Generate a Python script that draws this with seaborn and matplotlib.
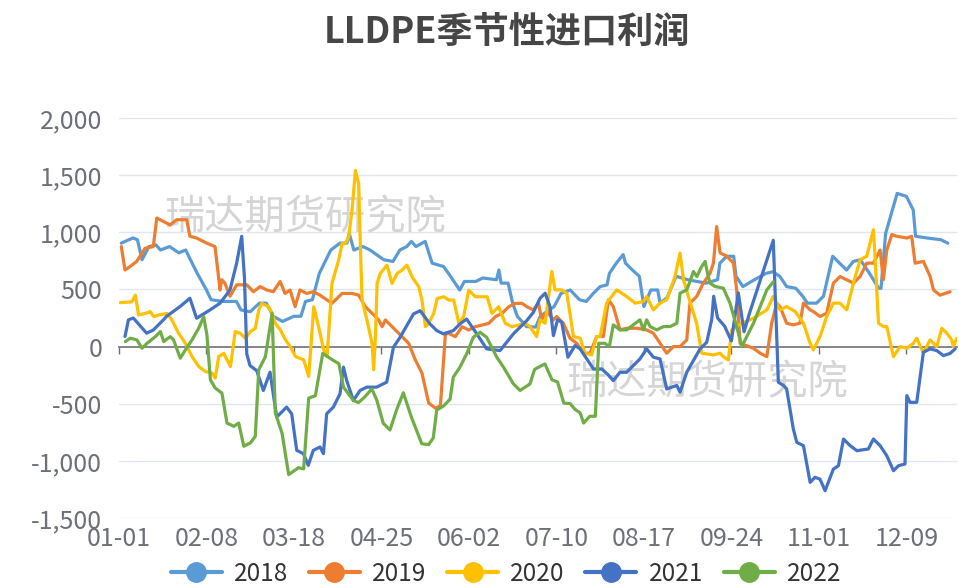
import matplotlib
matplotlib.use("Agg")
import seaborn as sns
import pandas as pd
from matplotlib import pyplot as plt
from matplotlib.lines import Line2D
from matplotlib.ticker import FuncFormatter

# (day of year, import profit) pairs
s2018 = [(1, 905), (6, 950), (8, 935), (10, 760), (13, 875), (16, 890), (18, 845), (22, 875),
         (26, 820), (29, 845), (31, 760), (34, 640), (38, 495), (40, 410), (45, 395), (51, 395),
         (53, 320), (57, 305), (61, 380), (64, 380), (67, 265), (71, 220), (76, 265), (79, 265),
         (81, 395), (84, 410), (87, 640), (92, 845), (96, 905), (99, 905), (100, 990), (102, 845),
         (106, 875), (109, 845), (115, 760), (119, 745), (122, 845), (125, 875), (127, 920),
         (129, 875), (133, 920), (136, 730), (141, 700), (144, 615), (148, 495), (150, 570),
         (155, 570), (158, 600), (164, 585), (165, 670), (166, 555), (169, 555), (171, 380),
         (173, 265), (177, 175), (181, 170), (183, 265), (189, 350), (192, 465), (196, 495),
         (200, 410), (203, 395), (206, 465), (209, 525), (212, 540), (213, 640), (216, 730),
         (219, 805), (220, 730), (223, 670), (226, 615), (228, 350), (231, 495), (234, 495),
         (235, 380), (238, 425), (242, 615), (247, 585), (251, 570), (255, 555), (260, 585),
         (261, 730), (264, 790), (267, 790), (268, 615), (271, 525), (276, 585), (281, 640),
         (284, 655), (287, 615), (290, 525), (294, 510), (297, 440), (299, 380), (303, 380),
         (306, 440), (310, 790), (316, 670), (319, 745), (322, 760), (326, 640), (330, 510),
         (331, 510), (333, 990), (338, 1340), (342, 1315), (345, 1195), (346, 965), (351, 950),
         (357, 935), (360, 905)]

s2019 = [(1, 875), (2.6, 670), (4.8, 700), (7.7, 745), (9.1, 790), (11.3, 860), (14.9, 875),
         (16.4, 1125), (17.8, 1110), (20.7, 1080), (22.2, 1065), (25.1, 1110), (29.4, 1110),
         (30.8, 965), (33.7, 950), (38.1, 905), (41.7, 875), (43.9, 495), (44.6, 585), (46, 555),
         (48.2, 440), (51.1, 540), (55.5, 540), (58.4, 480), (61.3, 525), (64.2, 495), (67, 480),
         (70, 570), (72.1, 465), (74.3, 495), (76.5, 350), (78.6, 495), (81.5, 465), (84.4, 480),
         (87.3, 450), (92.5, 378), (96.9, 465), (101.2, 465), (104.1, 450), (107, 349), (110, 290),
         (112.8, 233), (114.3, 174), (115.7, 233), (118.6, 174), (121.5, 116), (125.8, 29),
         (128.7, -116), (131.6, -232), (134.5, -494), (137.4, -538), (139.6, -520), (141.8, 116),
         (143.2, 116), (146.1, 87), (149, 174), (151.9, 145), (154.8, 174), (157.7, 189),
         (160.6, 203), (163.5, 262), (166.4, 290), (169.3, 349), (172.2, 378), (175.1, 378),
         (177.1, 350), (180, 320), (182.2, 380), (183.6, 235), (185.8, 307), (188.7, 234),
         (190.1, 263), (193, 204), (195.9, 73), (198.8, 29), (201.7, -58), (204.6, -58),
         (207.5, 88), (210.4, 88), (212.6, 410), (214.7, 350), (217.6, 146), (220.5, 160),
         (224.9, 160), (229.2, 146), (232.1, 117), (235, 29), (237.9, -58), (240.8, 0),
         (243.7, 0), (246.6, 58), (248, 380), (250.9, 438), (253.8, 555), (256.7, 640),
         (258.2, 730), (259.6, 1050), (261.1, 820), (264, 790), (266.9, 730), (268.3, 495),
         (269.8, 29), (275.6, -15), (278.5, -58), (281.4, -88), (283.5, 205), (285.7, 380),
         (287.1, 350), (290, 204), (292.9, 190), (295.8, 205), (297.3, 380), (300.2, 321),
         (301.6, 307), (304.5, 263), (307.4, 292), (310.3, 555), (313.2, 613), (316.1, 584),
         (319, 555), (321.9, 613), (324.8, 730), (327.7, 730), (330.6, 845), (332, 585),
         (333.5, 845), (335.7, 980), (337.8, 965), (342.2, 950), (344.3, 965), (345.8, 730),
         (349.4, 745), (352.3, 615), (353.8, 495), (356.6, 450), (361, 480)]

s2020 = [(0.6, 384), (5.6, 392), (7.1, 450), (8.5, 276), (11.4, 290), (13.6, 305), (15.1, 262),
         (17.2, 276), (20.9, 290), (23, 232), (25.9, 116), (28.8, 29), (31.7, -87), (34.6, -174),
         (37.5, -218), (40.4, -232), (41.8, -276), (43.3, -87), (45.5, -60), (48.4, -174),
         (50.5, 131), (52.7, 116), (54.9, 73), (57.1, 131), (59.2, 160), (60.7, 320), (62.1, 378),
         (65, 349), (66.5, 290), (67.9, 203), (70.1, 145), (72.3, 58), (74.4, 0), (76.6, -87),
         (80.2, -116), (82.4, -262), (84.6, 349), (86.7, 174), (88.9, -29), (90.4, -87),
         (92.5, 552), (95.4, 756), (96.9, 901), (98.3, 901), (99.8, 959), (101.2, 1192),
         (102.7, 1541), (104.1, 1424), (104.9, 843), (105.6, 407), (107.7, 233), (109.9, 29),
         (110.6, -203), (111.4, 87), (112.1, 552), (113.5, 640), (116.4, 712), (118.6, 552),
         (120.8, 640), (122.9, 669), (125.1, 712), (127.3, 610), (130.2, 523), (131.6, 407),
         (133.1, 174), (134.5, 203), (136.7, 290), (138.2, 421), (141.1, 436), (143.2, 407),
         (145.4, 407), (147.6, 203), (149.7, 262), (151.9, 494), (154.8, 436), (157.7, 436),
         (159.9, 436), (162, 290), (164.9, 349), (167.8, 203), (170.7, 174), (173.6, 189),
         (176.5, 203), (178.5, 175), (181.4, 88), (182.9, 234), (185.1, 204), (188, 657),
         (189.4, 496), (192.3, 496), (194.5, 467), (197.4, 88), (200.3, 73), (202.4, -58),
         (205.3, -73), (207.5, 88), (209, 88), (211.8, 380), (216.2, 496), (220.5, 438),
         (224.2, 380), (227.8, 394), (229.2, 438), (232.1, 321), (235, 380), (237.9, 409),
         (241.5, 613), (243.7, 818), (245.2, 584), (248, 394), (250.9, 204), (253.1, -58),
         (258.2, -73), (261.1, -58), (262.5, -88), (264.7, -117), (266.1, 146), (270.5, 204),
         (275.6, 248), (281.4, 321), (284.2, 438), (287.1, 321), (290, 350), (293.7, 307),
         (297.3, 204), (300.2, 29), (301.6, -29), (304.5, 88), (307.4, 263), (310.3, 380),
         (313.2, 380), (316.1, 321), (319, 555), (321.9, 760), (324.8, 790), (327.7, 1022),
         (328.4, 790), (329.9, 204), (332, 175), (333.5, 175), (336.4, -88), (339.3, 0),
         (342.2, -15), (345.1, 29), (346.5, 73), (349.4, -58), (352.3, 58), (355.2, 0),
         (357.4, 160), (359.6, 117), (361.7, 58), (362.4, 0), (363.9, 73)]

s2021 = [(2.6, 88), (4.1, 234), (6.2, 250), (12, 117), (14.9, 145), (19.3, 234), (20.7, 265),
         (26.5, 350), (30.8, 423), (33.7, 248), (39.5, 320), (43.9, 380), (48.2, 495),
         (51.1, 730), (53.3, 965), (54.5, 600), (55.5, -64), (56.9, -166), (59.8, -210),
         (62.7, -384), (65.6, -224), (68.5, -617), (72.8, -530), (75, -588), (77.2, -908),
         (80.1, -937), (82.2, -1039), (84.4, -908), (87.3, -879), (88.8, -937), (90.2, -588),
         (93.1, -530), (96, -413), (97.5, -180), (98.9, -297), (101.8, -471), (104.7, -384),
         (107.6, -355), (111.9, -355), (116.3, -311), (119.2, -6), (122.1, 81), (127.9, 285),
         (130.8, 314), (135.1, 198), (138, 140), (140.9, 111), (145.2, 140), (148.1, 198),
         (151, 241), (155.4, 111), (159.7, -20), (165.5, -35), (171.3, 111), (177.1, 227),
         (180, 300), (182.9, 423), (185.1, 467), (187.2, 350), (188.7, 96), (190.5, 234),
         (192.3, 213), (195, -93), (198.1, 9), (200.3, -20), (203.2, -108), (206.1, -196),
         (209.7, -196), (212.6, -250), (214.7, -298), (217.6, -225), (220.5, -225),
         (223.4, -166), (226.3, -108), (229.2, -20), (232.1, -93), (235, -108), (237.9, -371),
         (240.1, -355), (242.3, -340), (243.7, -400), (246.6, -225), (249.5, -123),
         (252.4, -20), (255.3, 38), (257.5, 242), (258.3, 440), (260, 250), (263, 180),
         (266, 50), (269, 470), (271.5, 130), (274, 300), (284.2, 930), (286.4, -312),
         (288.6, -340), (290, -370), (292.9, -721), (294.4, -838), (297.3, -867),
         (300.2, -1188), (302.3, -1144), (304.5, -1160), (306.7, -1261), (310.3, -1072),
         (312.5, -1042), (314.7, -809), (317.6, -867), (320.5, -911), (325.5, -896),
         (327.7, -809), (330.6, -867), (333.5, -955), (336.4, -1086), (338.6, -1042),
         (341.4, -1028), (342.2, -429), (343.6, -488), (346.5, -488), (349.4, -50),
         (352.3, -20), (355.2, -35), (358.1, -79), (361, -60), (363.2, -20)]

s2022 = [(2.8, 44), (4.9, 73), (7.8, 58), (10, -15), (12.2, 29), (15.8, 87), (18, 131),
         (19.4, 44), (22.3, 87), (23.7, 58), (26.6, -102), (28.8, -30), (31.7, 58), (34.6, 160),
         (36.8, 262), (38.2, 100), (39.7, -291), (41.8, -363), (44.7, -407), (46.9, -669),
         (49.8, -698), (52, -669), (54.2, -872), (57.1, -843), (59.2, -785), (60.7, -203),
         (63.6, -87), (66.5, 290), (67.9, -581), (70.8, -756), (73.7, -1120), (78, -1060),
         (80.2, -1070), (82.4, -451), (85.3, -430), (88.5, -60), (93, -120), (95.5, -150),
         (97.5, -355), (101.8, -471), (104, -490), (106.7, -442), (109.8, -370), (112, -470),
         (114.8, -672), (117.7, -730), (120.6, -553), (123.5, -404), (127, -617), (131.5, -850),
         (134.5, -858), (136.5, -800), (138, -555), (141, -520), (143.8, -460), (145.2, -268),
         (148.1, -180), (151, -64), (153.9, 81), (156.8, 125), (159.7, 81), (164.1, -93),
         (167, -180), (171.3, -326), (174.2, -384), (178.5, -327), (180.5, -200), (183.6, -166),
         (185, -152), (188.1, -291), (190.5, -310), (193.2, -494), (196, -500), (198.2, -552),
         (200.3, -580), (201.8, -669), (204.5, -610), (206.9, -610), (208.4, 29), (211, 29),
         (213, 0), (214.7, 190), (217.6, 146), (220.5, 146), (223.4, 190), (226.3, 234),
         (227.8, 146), (229.2, 234), (230.7, 175), (233.6, 146), (236.5, 175), (239.4, 175),
         (242.3, 204), (243.7, 467), (246.6, 496), (248, 569), (249.5, 657), (251, 613),
         (253.1, 701), (254.6, 745), (255.3, 672), (256.7, 555), (258.9, 526), (262.5, 511),
         (265.4, 380), (268.3, 175), (270.5, 0), (275.6, 204), (281.4, 496), (284.2, 567)]

years = ["2018", "2019", "2020", "2021", "2022"]
colors = {"2018": "#5B9BD5", "2019": "#ED7D31", "2020": "#FFC000",
          "2021": "#4472C4", "2022": "#70AD47"}
tick_days = [0, 38, 76, 114, 152, 190, 228, 266, 304, 342]
tick_labels = ["01-01", "02-08", "03-18", "04-25", "06-02",
               "07-10", "08-17", "09-24", "11-01", "12-09"]
y_ticks = [-1500, -1000, -500, 0, 500, 1000, 1500, 2000]

frames = []
for yr, pts in zip(years, [s2018, s2019, s2020, s2021, s2022]):
    d = pd.DataFrame(pts, columns=["day", "profit"])
    d["year"] = yr
    frames.append(d)
df = pd.concat(frames, ignore_index=True)

sns.set_theme(style="white")
plt.rcParams["font.family"] = ["Noto Sans CJK SC", "DejaVu Sans"]
axis_grey = "#6E7079"

fig = plt.figure(figsize=(9.59, 5.87), dpi=100)
ax = fig.add_axes([119 / 959, 1 - 518 / 587, 838 / 959, 400 / 587])

for yv in y_ticks:
    if yv != 0:
        ax.axhline(yv, color="#E0E6F1", lw=1, zorder=0)

# watermark
for wx, wy in [(0.222, 0.75), (0.702, 0.3375)]:
    ax.text(wx, wy, "瑞达期货研究院", transform=ax.transAxes, ha="center", va="center",
            fontsize=29, color="#C4C4C4", alpha=0.7, zorder=1)

sns.lineplot(data=df, x="day", y="profit", hue="year", palette=colors, estimator=None,
             linewidth=2.3, legend=False, ax=ax, zorder=3)

ax.set_xlim(0, 364)
ax.set_ylim(-1500, 2000)
ax.set_yticks(y_ticks)
ax.yaxis.set_major_formatter(FuncFormatter(lambda v, p: f"{int(v):,}"))
ax.set_xticks(tick_days)
ax.set_xticklabels(tick_labels)
ax.tick_params(axis="both", length=0, colors=axis_grey, labelsize=18)
ax.tick_params(axis="y", pad=12)
ax.tick_params(axis="x", pad=6)
ax.set_xlabel("")
ax.set_ylabel("")
for sp in ax.spines.values():
    sp.set_visible(False)

# category axis line sits on the zero value
zero_axis = ax.secondary_xaxis(1500 / 3500)
zero_axis.set_xticks(tick_days)
zero_axis.tick_params(axis="x", direction="out", length=5, width=1, color=axis_grey,
                      labelbottom=False)
zero_axis.spines["bottom"].set_color(axis_grey)
zero_axis.spines["bottom"].set_linewidth(1.2)

fig.text(507 / 959, 1 - 32 / 587, "LLDPE季节性进口利润", ha="center", va="center",
         fontsize=26, fontweight="bold", color="#464646")

handles = [Line2D([0], [0], color=colors[y], lw=3, marker="o", markersize=14) for y in years]
fig.legend(handles, years, loc="center", bbox_to_anchor=(506 / 959, 1 - 574 / 587), ncol=5,
           frameon=False, fontsize=17.5, handlelength=2.1, columnspacing=0.85,
           labelcolor="#333333", handletextpad=0.5, borderpad=0)

fig.savefig("out.png", dpi=100)
